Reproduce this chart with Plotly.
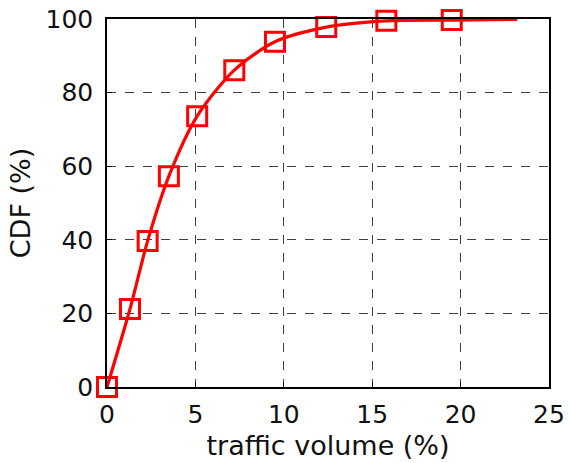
import plotly.graph_objects as go

# CDF of per-item traffic volume
marker_x = [0.0, 1.3, 2.3, 3.5, 5.1, 7.2, 9.5, 12.4, 15.8, 19.5]
marker_y = [0.0, 21.2, 39.7, 57.3, 73.6, 86.1, 93.8, 97.8, 99.5, 99.7]

curve_x = [0.0, 1.3, 2.3, 3.5, 5.1, 7.2, 9.5, 12.4, 15.8, 19.5, 23.2]
curve_y = [0.0, 21.2, 39.7, 57.3, 73.6, 86.1, 93.8, 97.8, 99.5, 99.7, 99.9]

x_ticks = [0, 5, 10, 15, 20, 25]
y_ticks = [0, 20, 40, 60, 80, 100]

RED = "#ff0000"
FONT = "DejaVu Sans"
TEXT = "#111111"

fig = go.Figure()
fig.add_trace(go.Scatter(
    x=curve_x, y=curve_y, mode="lines",
    line=dict(color=RED, width=3.2, shape="spline", smoothing=0.8),
    hoverinfo="skip", showlegend=False,
))
fig.add_trace(go.Scatter(
    x=marker_x, y=marker_y, mode="markers",
    marker=dict(symbol="square-open", size=19, color=RED,
                line=dict(color=RED, width=3)),
    showlegend=False, cliponaxis=False,
))

axis_common = dict(
    showline=True, mirror=True, linecolor="black", linewidth=1.5,
    showgrid=True, gridcolor="rgba(0,0,0,0.75)", griddash="dash", gridwidth=1,
    zeroline=False, ticks="inside", ticklen=5, tickcolor="black",
    tickfont=dict(family=FONT, size=25, color=TEXT),
    automargin=False,
)

fig.update_xaxes(range=[0, 25], tickvals=x_ticks, ticklabelstandoff=4,
                 title=dict(text="traffic volume (%)", font=dict(family=FONT, size=27, color=TEXT), standoff=8),
                 **axis_common)
fig.update_yaxes(range=[0, 100], tickvals=y_ticks, ticklabelstandoff=7,
                 title=dict(text="CDF (%)", font=dict(family=FONT, size=27, color=TEXT), standoff=7),
                 **axis_common)

fig.update_layout(
    width=570, height=463,
    margin=dict(l=107, r=21, t=19, b=76),
    paper_bgcolor="white", plot_bgcolor="white",
    font=dict(family=FONT, color=TEXT),
)

fig.write_html("out.html")
